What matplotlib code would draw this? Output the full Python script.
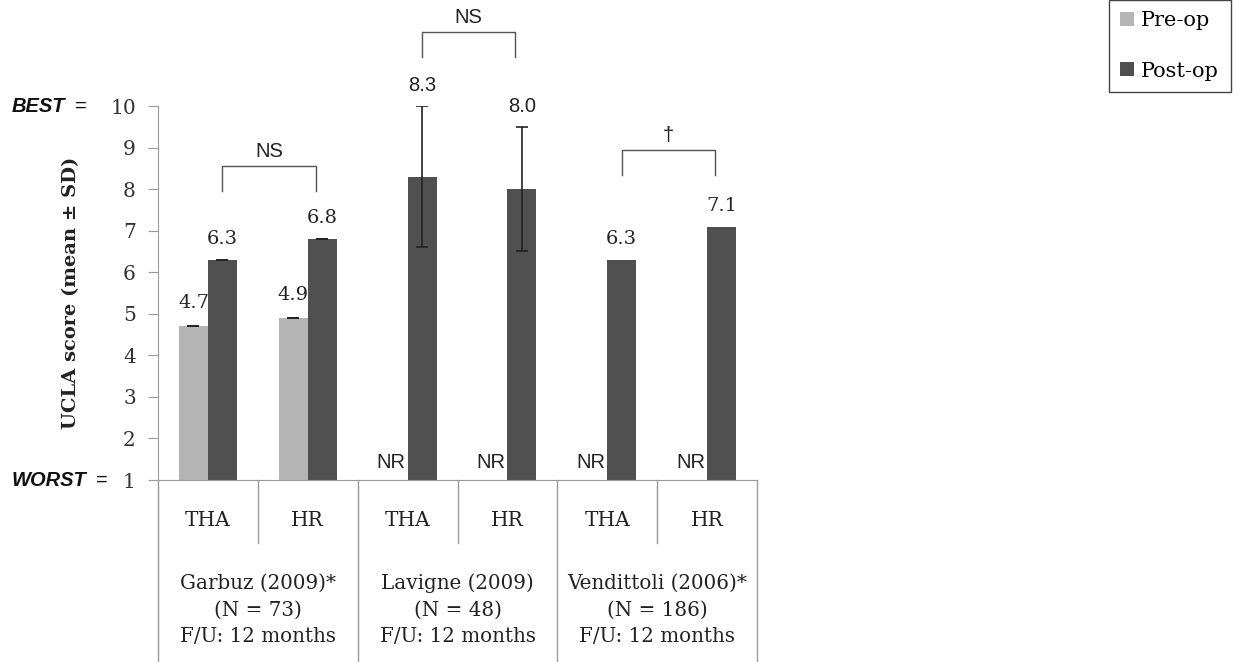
import numpy as np
import matplotlib
matplotlib.use('Agg')
import matplotlib.pyplot as plt
from matplotlib.transforms import blended_transform_factory

# data
studies = ['Garbuz (2009)*\n(N = 73)\nF/U: 12 months',
           'Lavigne (2009)\n(N = 48)\nF/U: 12 months',
           'Vendittoli (2006)*\n(N = 186)\nF/U: 12 months']
procedures = ['THA', 'HR', 'THA', 'HR', 'THA', 'HR']
pre_op = [4.7, 4.9, np.nan, np.nan, np.nan, np.nan]
post_op = [6.3, 6.8, 8.3, 8.0, 6.3, 7.1]
pre_sd = [0.0, 0.0, np.nan, np.nan, np.nan, np.nan]
post_sd = [0.0, 0.0, 1.7, 1.5, np.nan, np.nan]
sig_labels = ['NS', 'NS', '\u2020']
sig_heights = [8.55, 11.77, 8.93]

serif = 'DejaVu Serif'
sans = 'Liberation Sans'
pre_color = '#b4b4b4'
post_color = '#505050'
grid_color = '#9a9a9a'
txt = '#222222'

fig = plt.figure(figsize=(12.38, 6.62), dpi=100)
ax = fig.add_axes([158/1238, 182/662, 599/1238, 374/662])

x = np.arange(len(post_op)) + 0.5
w = 0.29
pre = np.array(pre_op)
post = np.array(post_op)

ax.bar(x - w/2, pre - 1, bottom=1, width=w, color=pre_color, label='Pre-op')
ax.bar(x + w/2, post - 1, bottom=1, width=w, color=post_color, label='Post-op')
ax.errorbar(x - w/2, pre, yerr=pre_sd, fmt='none', ecolor='#222222', capsize=4, elinewidth=1.2, capthick=1.2)
ax.errorbar(x + w/2, post, yerr=post_sd, fmt='none', ecolor='#222222', capsize=4, elinewidth=1.2, capthick=1.2)

# value labels
for i in range(len(post)):
    sans_lab = i in (2, 3)
    sd = 0 if np.isnan(post_sd[i]) else post_sd[i]
    if sans_lab:
        ax.text(x[i] + w/2, post[i] + sd + 0.5, f'{post[i]:.1f}', ha='center', va='center',
                fontsize=14.5, family=sans, color=txt)
    else:
        ax.text(x[i] + w/2, post[i] + sd + 0.5, f'{post[i]:.1f}', ha='center', va='center',
                fontsize=14, family=serif, color=txt)
    if np.isnan(pre[i]):
        ax.text(x[i] - 0.02, 1.42, 'NR', ha='right', va='center', fontsize=14.5, family=sans, color=txt)
    else:
        ax.text(x[i] - w/2, pre[i] + 0.55, f'{pre[i]:.1f}', ha='center', va='center',
                fontsize=14, family=serif, color=txt)

# significance brackets
for g, (lab, top) in enumerate(zip(sig_labels, sig_heights)):
    x1 = 2*g + 0.5 + w/2
    x2 = 2*g + 1.58
    ax.plot([x1, x1, x2, x2], [top - 0.6, top, top, top - 0.6], color='#555555', lw=1, clip_on=False)
    ax.text((x1 + x2)/2, top + 0.35, lab, ha='center', va='center', fontsize=14.5, family=sans, color=txt)

ax.set_xlim(0, 6)
ax.set_ylim(1, 10)
ax.set_yticks(range(1, 11))
ax.set_xticks([])
ax.tick_params(axis='y', direction='out', length=7, color=grid_color, labelsize=14.5, pad=9, labelcolor='#333333')
for t in ax.get_yticklabels():
    t.set_family(serif)
ax.spines['top'].set_visible(False)
ax.spines['right'].set_visible(False)
ax.spines['left'].set_color(grid_color)
ax.spines['bottom'].set_color(grid_color)

ax.set_ylabel('UCLA score (mean \u00b1 SD)', family=serif, fontweight='bold', fontsize=14, color=txt)
ax.yaxis.set_label_coords(-0.13, 0.5)

# BEST / WORST markers
tr = blended_transform_factory(fig.transFigure, ax.transData)
ax.text(12/1238, 10, 'BEST', transform=tr, ha='left', va='center', fontsize=14.5,
        family=sans, fontweight='bold', style='italic', color='#111111')
ax.text(75/1238, 10, '=', transform=tr, ha='left', va='center', fontsize=14.5, family=sans, color='#111111')
ax.text(12/1238, 1, 'WORST', transform=tr, ha='left', va='center', fontsize=14.5,
        family=sans, fontweight='bold', style='italic', color='#111111')
ax.text(96/1238, 1, '=', transform=tr, ha='left', va='center', fontsize=14.5, family=sans, color='#111111')

# category table under the axis
tb = blended_transform_factory(ax.transData, fig.transFigure)
y_axis = 1 - 480/662
for b in range(0, 7):
    if b % 2 == 0:
        ax.plot([b, b], [y_axis, 0], color=grid_color, lw=1, transform=tb, clip_on=False)
    else:
        ax.plot([b, b], [y_axis, 1 - 543/662], color=grid_color, lw=1, transform=tb, clip_on=False)
for i, p in enumerate(procedures):
    ax.text(x[i], 1 - 520/662, p, transform=tb, ha='center', va='center', fontsize=14.5, family=serif, color=txt)
for g, s in enumerate(studies):
    ax.text(2*g + 1, 1 - 610/662, s, transform=tb, ha='center', va='center', fontsize=14.3,
            family=serif, color=txt, linespacing=1.5)

leg = fig.legend(loc='lower left', bbox_to_anchor=(1109/1238, 1 - 92/662), prop={'family': serif, 'size': 15},
                 handlelength=0.65, handleheight=0.65, handletextpad=0.35, labelspacing=1.5,
                 borderpad=0.55, borderaxespad=0, fancybox=False, framealpha=1)
leg.get_frame().set_edgecolor('#444444')

fig.savefig('out.png', dpi=100)
